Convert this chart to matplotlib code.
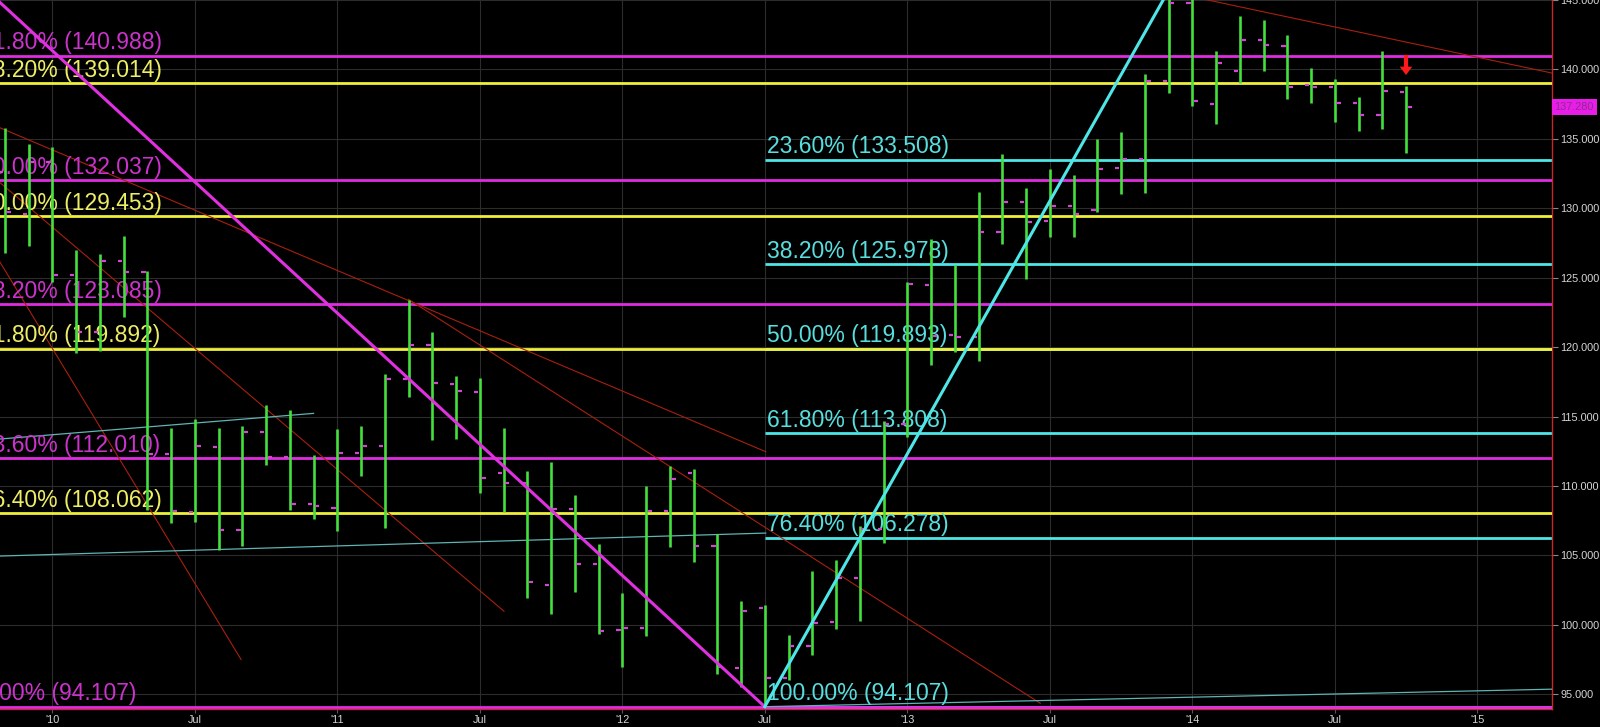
import numpy as np
import matplotlib
matplotlib.use("Agg")
import matplotlib.pyplot as plt
from matplotlib.ticker import FormatStrFormatter

plt.rcParams['font.family'] = ['Liberation Sans', 'DejaVu Sans']

# monthly bars, Nov 2009 .. Oct 2014 (month 0 = Jan 2010)
first_month = -2
opens = [132.6, 129.6, 133.3, 125.2, 121.1, 126.2, 125.4, 112.3, 108.1, 112.8, 106.8, 113.9,
         112.1, 108.7, 108.4, 112.4, 112.9, 117.7, 120.15, 117.35, 116.8, 110.9, 110.2, 102.9,
         108.35, 104.35, 99.6, 99.8, 108.2, 110.9, 105.65, 96.9, 101.2, 96.2, 98.5, 100.2,
         103.4, 106.9, 114.5, 124.45, 120.85, 120.75, 128.3, 130.45, 129.05, 130.15, 129.85, 132.9,
         133.55, 139.2, 144.8, 137.5, 139.9, 142.1, 141.7, 138.85, 138.7, 137.55, 136.7, 138.4]
highs = [135.8, 134.6, 134.4, 127.0, 126.7, 128.0, 125.5, 114.2, 114.8, 114.2, 114.3, 115.8,
         115.5, 112.2, 114.1, 114.3, 118.05, 123.4, 121.1, 117.9, 117.8, 114.2, 111.05, 111.7,
         109.35, 105.85, 102.3, 110.0, 111.45, 111.2, 106.55, 101.7, 101.4, 99.3, 103.9, 104.65,
         107.15, 114.7, 124.7, 127.8, 125.9, 131.2, 133.9, 131.45, 132.8, 132.4, 135.0, 135.5,
         139.7, 145.68, 145.2, 141.3, 143.85, 143.55, 142.45, 140.1, 139.3, 138.05, 141.3, 138.8]
lows = [126.8, 127.3, 124.7, 119.6, 119.7, 122.2, 108.3, 107.3, 107.4, 105.4, 105.7, 111.5,
        108.3, 107.6, 106.75, 110.75, 106.97, 116.4, 113.3, 113.4, 109.5, 108.15, 101.9, 100.75,
        102.4, 99.35, 97.0, 99.2, 105.6, 104.55, 96.45, 95.55, 94.107, 96.0, 97.85, 99.7,
        100.3, 105.9, 113.5, 118.7, 119.65, 119.0, 127.4, 124.9, 127.95, 127.9, 129.7, 131.05,
        131.1, 138.3, 137.4, 136.1, 139.05, 139.9, 137.85, 137.55, 136.2, 135.6, 135.7, 134.0]
closes = [129.7, 133.3, 125.2, 121.1, 126.2, 125.4, 112.3, 108.2, 112.9, 106.8, 113.9, 112.1,
          108.7, 108.55, 112.4, 112.9, 117.7, 120.15, 117.4, 116.85, 110.55, 110.2, 103.1, 108.35,
          104.4, 99.55, 99.8, 108.2, 110.5, 105.65, 96.95, 101.0, 96.2, 98.5, 100.15, 103.4,
          106.9, 114.5, 124.55, 120.8, 120.75, 128.3, 130.45, 129.0, 130.2, 129.6, 132.85, 133.55,
          139.2, 144.8, 137.75, 140.45, 142.1, 141.75, 138.7, 138.7, 137.55, 136.7, 138.45, 137.28]

# fibonacci retracement sets
mag_pct = ['0.00%', '23.60%', '38.20%', '50.00%', '61.80%']
mag_levels = [94.107, 112.010, 123.085, 132.037, 140.988]
yel_pct = ['76.40%', '61.80%', '50.00%', '38.20%']
yel_levels = [108.062, 119.892, 129.453, 139.014]
cyan_pct = ['100.00%', '76.40%', '61.80%', '50.00%', '38.20%', '23.60%']
cyan_levels = [94.107, 106.278, 113.808, 119.893, 125.978, 133.508]
cyan_start = 30  # Jul 2012 low

# trend lines as (month, price) pairs
magenta_trend = [(-3.0, 146.08), (30, 94.107)]
cyan_trend = [(30, 94.107), (47, 145.679)]
red_trends = [
    [(-2.3, 135.87), (30.04, 112.47)],
    [(-2.3, 131.99), (19.02, 100.98)],
    [(-2.3, 126.4), (7.95, 97.5)],
    [(15, 123.44), (41.6, 94.35)],
    [(47.0, 145.6), (63.2, 139.72)],
]
teal_trends = [
    [(-2.3, 113.37), (11.0, 115.23)],
    [(-2.3, 104.95), (30.04, 106.61)],
    [(30, 94.107), (63.2, 95.37)],
]
last_price = 137.28
signal_month = 57
signal_top, signal_tip = 141.05, 139.6

x_ticks = list(range(0, 61, 6))
x_labels = ["'10", "Jul", "'11", "Jul", "'12", "Jul", "'13", "Jul", "'14", "Jul", "'15"]

BG = '#000000'
fig = plt.figure(figsize=(16, 7.27), dpi=100, facecolor=BG)
ax = fig.add_axes([0, 18 / 727, 1552.3 / 1600, 709 / 727], facecolor=BG)
ax.set_xlim(-2.202, 63.16)
ax.set_ylim(93.94, 145.0)

ax.grid(True, color='#2c2c2c', lw=0.8)
ax.set_axisbelow(True)

fs = 16.5
lab_off = 4.5
# cyan fib set (starts at the Jul 2012 low)
for pct, lvl in zip(cyan_pct, cyan_levels):
    ax.hlines(lvl, cyan_start, 70, color='#4ee6e6', lw=2.0, zorder=2)
    ax.annotate(f'{pct} ({lvl:.3f})', xy=(cyan_start, lvl), xytext=(1.5, lab_off),
                textcoords='offset points', color='#58dede', fontsize=fs,
                va='baseline', ha='left', zorder=4)

left_x = (-20 - 52.3) / 23.75
for pct, lvl in zip(yel_pct, yel_levels):
    ax.axhline(lvl, color='#f0f03a', lw=2.0, zorder=3)
    ax.annotate(f'{pct} ({lvl:.3f})', xy=(left_x, lvl), xytext=(0, lab_off),
                textcoords='offset points', color='#eeee66', fontsize=fs,
                va='baseline', ha='left', zorder=4, annotation_clip=False)
for pct, lvl in zip(mag_pct, mag_levels):
    ax.axhline(lvl, color='#e02ce0', lw=2.0, zorder=3)
    ax.annotate(f'{pct} ({lvl:.3f})', xy=(left_x, lvl), xytext=(0, lab_off),
                textcoords='offset points', color='#cc33cc', fontsize=fs,
                va='baseline', ha='left', zorder=4, annotation_clip=False)

for seg in red_trends:
    xs, ys = zip(*seg)
    ax.plot(xs, ys, color='#a8200f', lw=0.8, zorder=3)
for seg in teal_trends:
    xs, ys = zip(*seg)
    ax.plot(xs, ys, color='#5fb4b4', lw=0.9, zorder=3)

# OHLC bars
x = np.arange(len(closes)) + first_month
ax.vlines(x, lows, highs, color='#44e03c', lw=1.9, zorder=5)
ax.hlines(opens, x - 0.25, x - 0.07, color='#d048d0', lw=1.6, zorder=5)
ax.hlines(closes, x + 0.07, x + 0.25, color='#d048d0', lw=1.6, zorder=5)

xs, ys = zip(*magenta_trend)
ax.plot(xs, ys, color='#e030e0', lw=2.2, zorder=6)
xs, ys = zip(*cyan_trend)
ax.plot(xs, ys, color='#4ee6e6', lw=2.2, zorder=6)

ax.annotate('', xy=(signal_month, signal_tip), xytext=(signal_month, signal_top),
            arrowprops=dict(facecolor='#ff1a1a', edgecolor='none', width=3,
                            headwidth=9, headlength=6, shrink=0), zorder=7)

# axes styling
for s in ('top', 'left'):
    ax.spines[s].set_visible(False)
for s in ('right', 'bottom'):
    ax.spines[s].set_color('#c62828')
    ax.spines[s].set_linewidth(1.0)

ax.yaxis.tick_right()
ax.set_yticks(np.arange(95, 146, 5))
ax.yaxis.set_major_formatter(FormatStrFormatter('%.3f'))
ax.tick_params(axis='y', colors='#888888', labelcolor='#d6d6d6', labelsize=7.8,
               length=4, width=0.8, pad=2)
ax.set_xticks(x_ticks)
ax.set_xticklabels(x_labels)
ax.tick_params(axis='x', colors='#555555', labelcolor='#d6d6d6', labelsize=7.8,
               length=3, width=0.8, pad=1)

ax.text(1.0015, last_price, f'{last_price:.3f}', transform=ax.get_yaxis_transform(),
        ha='left', va='center', fontsize=7.8, color='#8e2a8e',
        bbox=dict(boxstyle='square,pad=0.25', fc='#e81ee8', ec='none'), zorder=8,
        clip_on=False)

fig.savefig('out.png', dpi=100, facecolor=BG)
